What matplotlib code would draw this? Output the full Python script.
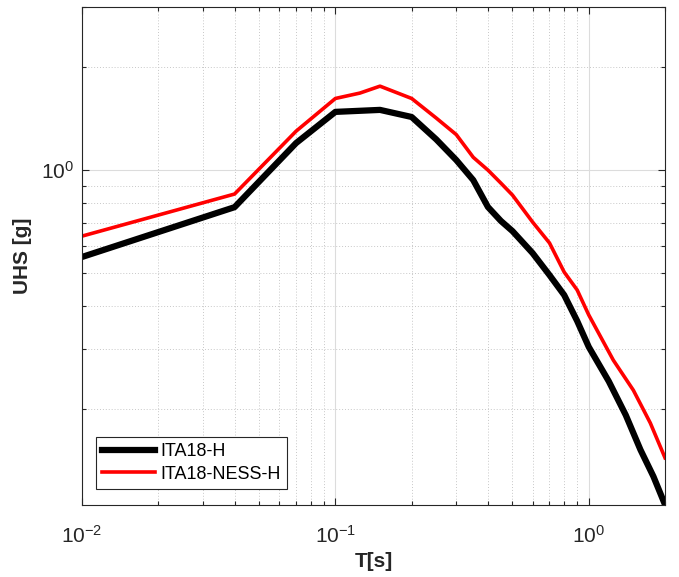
import matplotlib.pyplot as plt
import numpy as np
from matplotlib.ticker import LogLocator, NullFormatter

# spectral periods [s] and uniform hazard spectra [g]
T_ita18 = [0.01, 0.04, 0.07, 0.1, 0.15, 0.2, 0.25, 0.3, 0.35, 0.4, 0.45, 0.5,
           0.6, 0.7, 0.8, 0.9, 1.0, 1.2, 1.4, 1.6, 1.8, 2.0]
uhs_ita18 = [0.557, 0.779, 1.20, 1.48, 1.50, 1.43, 1.23, 1.07, 0.935, 0.78, 0.71, 0.663,
             0.572, 0.493, 0.431, 0.362, 0.304, 0.241, 0.192, 0.152, 0.127, 0.105]

T_ness = [0.01, 0.04, 0.07, 0.1, 0.125, 0.15, 0.2, 0.25, 0.3, 0.35, 0.4, 0.45, 0.5,
          0.6, 0.7, 0.8, 0.9, 1.0, 1.25, 1.5, 1.75, 2.0]
uhs_ness = [0.641, 0.851, 1.30, 1.62, 1.68, 1.76, 1.62, 1.42, 1.27, 1.09, 1.0, 0.916, 0.845,
            0.705, 0.612, 0.503, 0.446, 0.377, 0.278, 0.227, 0.182, 0.144]

labels = ['ITA18-H', 'ITA18-NESS-H']

plt.rcParams['font.family'] = ['Liberation Sans', 'DejaVu Sans']
plt.rcParams['mathtext.fontset'] = 'custom'
plt.rcParams['mathtext.rm'] = 'Liberation Sans'
plt.rcParams['mathtext.it'] = 'Liberation Sans'
plt.rcParams['mathtext.default'] = 'regular'

fig = plt.figure(figsize=(6.79, 5.77), dpi=100)
ax = fig.add_axes([0.1208, 0.1248, 0.8586, 0.8631])

ax.plot(T_ita18, uhs_ita18, color='black', lw=4.5, label=labels[0])
ax.plot(T_ness, uhs_ness, color='red', lw=2.6, label=labels[1])

ax.set_xscale('log')
ax.set_yscale('log')
ax.set_xlim(0.01, 2.0)
ax.set_ylim(0.1048, 3.0)

ax.xaxis.set_major_locator(LogLocator(base=10))
ax.yaxis.set_major_locator(LogLocator(base=10))
ax.xaxis.set_minor_locator(LogLocator(base=10, subs=np.arange(2, 10)))
ax.yaxis.set_minor_locator(LogLocator(base=10, subs=np.arange(2, 10)))
ax.xaxis.set_minor_formatter(NullFormatter())
ax.yaxis.set_minor_formatter(NullFormatter())

# matlab-like grid: solid major, dotted minor
ax.grid(True, which='major', color='#dcdcdc', lw=0.8, ls='-')
ax.grid(True, which='minor', color='#c8c8c8', lw=0.7, ls=(0, (1, 2)))
ax.set_axisbelow(True)

ax.tick_params(which='both', direction='in', top=True, right=True, colors='#262626',
               labelsize=15, width=0.8)
ax.tick_params(which='major', length=5)
ax.tick_params(which='minor', length=3)
ax.tick_params(axis='x', which='major', pad=14)
ax.tick_params(axis='y', which='major', pad=6)
for s in ax.spines.values():
    s.set_color('#262626')
    s.set_linewidth(0.8)

ax.set_xlabel('T[s]', fontsize=15, fontweight='bold', color='#262626', labelpad=4)
ax.set_ylabel('UHS [g]', fontsize=15, fontweight='bold', color='#262626', labelpad=6)

leg = ax.legend(loc='lower left', bbox_to_anchor=(0.024, 0.032), borderaxespad=0,
                fancybox=False, framealpha=1, edgecolor='#262626', fontsize=13,
                handlelength=2.9, handletextpad=0.3, borderpad=0.35, labelspacing=0.3)
leg.get_frame().set_linewidth(0.8)

fig.savefig('out.png', dpi=100)
